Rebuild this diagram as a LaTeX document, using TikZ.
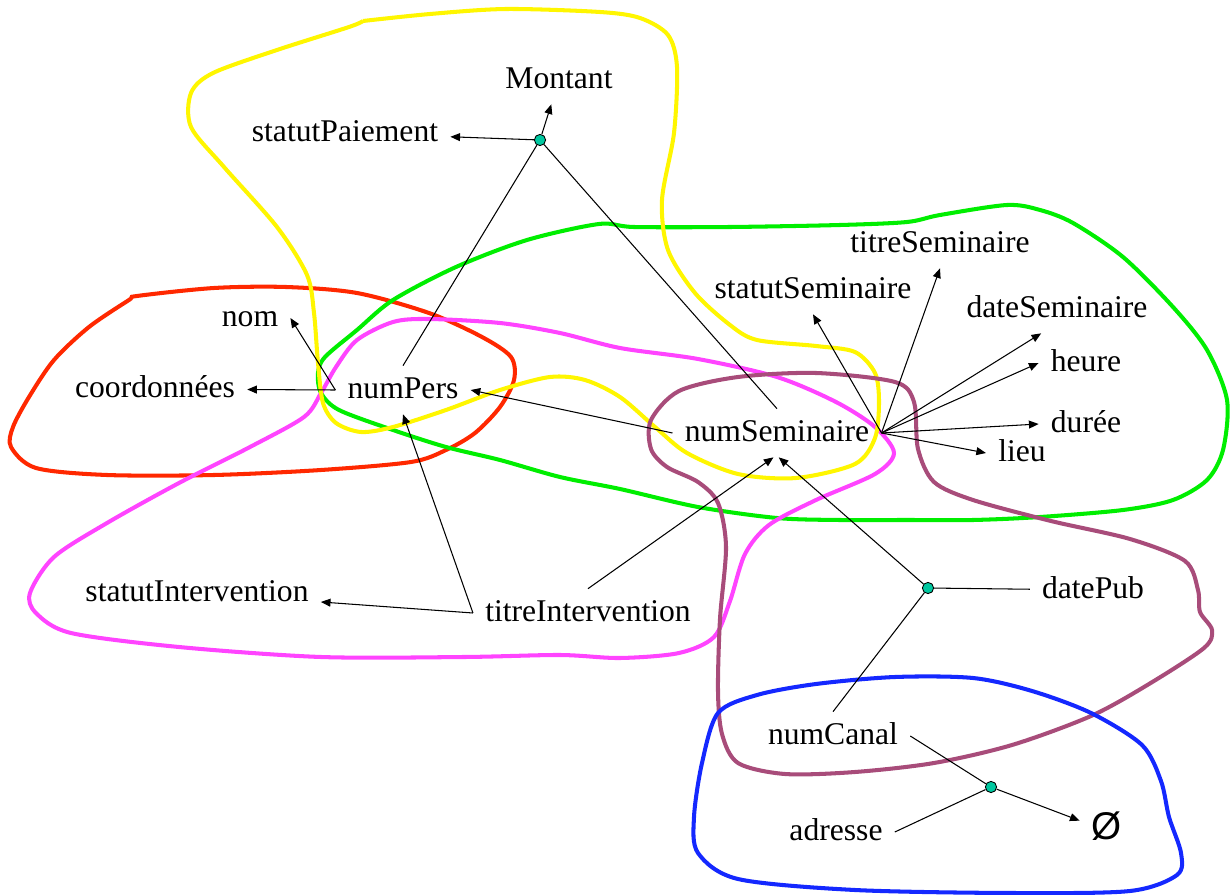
\documentclass[tikz,border=0pt]{standalone}
\usepackage{fontspec}
\setmainfont{Liberation Serif}
\newfontfamily\videfont{Liberation Sans}
\usetikzlibrary{arrows.meta}
\definecolor{jaune}{RGB}{255,246,0}
\definecolor{vert}{RGB}{0,238,0}
\definecolor{rouge}{RGB}{255,40,0}
\definecolor{rose}{RGB}{255,68,255}
\definecolor{prune}{RGB}{168,76,122}
\definecolor{bleu}{RGB}{20,40,255}
\definecolor{turquoise}{RGB}{0,200,160}

\begin{document}
\begin{tikzpicture}[x=0.02cm, y=-0.02cm,
  attr/.style={inner sep=6.8pt, text height=11.9pt, text depth=1.8pt, font=\fontsize{18}{21}\selectfont},
  fd/.style={-{Triangle[length=5.5pt,width=4.5pt]}, line width=0.6pt},
  lien/.style={line width=0.6pt},
  point/.style={circle, draw, fill=turquoise, inner sep=0pt, minimum size=6.4pt, line width=0.5pt},
  zone/.style={line width=2.3pt, line join=round}]
\useasboundingbox (0,0) rectangle (1231,895);

\draw[zone, rouge] plot[smooth cycle] coordinates {(137,296) (214,288) (286,287) (357,293) (429,313)
  (482,337) (511,357) (514,380) (500,407) (475,433) (446,450) (411,462) (321,470) (214,475)
  (107,475) (36,468) (11,447) (13,427) (29,397) (54,360) (89,327) (129,300)};
\draw[zone, vert] plot[smooth cycle] coordinates {(318,373) (325,357) (357,330) (393,300) (456,267)
  (527,240) (599,224) (634,227) (730,227) (840,225) (907,222) (940,215) (1007,205) (1040,210)
  (1073,223) (1123,257) (1173,307) (1207,350) (1227,400) (1223,450) (1207,480) (1173,500)
  (1123,510) (1040,517) (973,520) (907,520) (840,520) (777,518) (698,507) (620,489) (560,477)
  (500,460) (446,447) (393,430) (339,410) (321,393)};
\draw[zone, rose] plot[smooth cycle] coordinates {(620,348) (560,333) (500,323) (429,319) (393,322)
  (357,340) (336,367) (321,393) (304,417) (250,447) (179,483) (107,523) (54,557) (30,593)
  (36,613) (71,633) (179,647) (321,657) (464,657) (560,655) (620,658) (679,653) (714,637)
  (730,601) (745,554) (769,525) (816,500) (875,474) (894,453) (875,427) (836,402) (777,377)
  (698,359)};
\draw[zone, jaune] plot[smooth] coordinates {(363,21) (430,14) (506,9) (600,12) (640,18) (668,35)
  (677,67) (674,133) (662,200) (668,250) (695,293) (730,325) (757,340) (816,346) (855,352)
  (875,373) (879,402) (875,438) (855,464) (796,478) (738,474) (687,453) (655,427) (620,397)
  (585,380) (550,377) (500,390) (446,410) (393,427) (361,432) (336,423) (323,403) (318,363)
  (314,313) (307,275) (277,227) (224,167) (191,127) (191,93) (213,73) (277,50) (349,27) (363,21)};
\draw[zone, prune] plot[smooth cycle] coordinates {(651,449) (651,420) (679,391) (738,377) (816,373)
  (895,382) (914,402) (918,449) (934,482) (973,500) (1051,521) (1130,539) (1185,561)
  (1198,590) (1200,612) (1212,630) (1204,648) (1149,684) (1091,716) (1012,745) (934,763)
  (855,772) (785,774) (738,763) (722,734) (718,691) (720,619) (726,547) (718,503) (698,482)
  (667,467)};
\draw[zone, bleu] plot[smooth cycle] coordinates {(718,713) (757,695) (816,684) (895,677) (973,678)
  (1032,691) (1091,713) (1142,745) (1161,781) (1169,817) (1181,853) (1177,875) (1130,891)
  (1012,893) (855,890) (738,879) (698,853) (694,817) (702,763)};

\node[attr] (montant) at (559,80) {Montant};
\node[attr] (statutPai) at (345,133) {statutPaiement};
\node[attr] (nom) at (250,318) {nom};
\node[attr] (coord) at (155,389) {coordonnées};
\node[attr] (numPers) at (403,390) {numPers};
\node[attr] (numSem) at (777,433) {numSeminaire};
\node[attr] (titreSem) at (940,244) {titreSeminaire};
\node[attr] (statutSem) at (813,290) {statutSeminaire};
\node[attr] (dateSem) at (1057,309) {dateSeminaire};
\node[attr] (heure) at (1086,363) {heure};
\node[attr] (duree) at (1086,424) {durée};
\node[attr] (lieu) at (1022,453) {lieu};
\node[attr] (statutInt) at (197,593) {statutIntervention};
\node[attr] (titreInt) at (588,613) {titreIntervention};
\node[attr] (datePub) at (1093,590) {datePub};
\node[attr] (numCanal) at (833,736) {numCanal};
\node[attr] (adresse) at (836,832) {adresse};
\node[attr] (vide) at (1107,831) {\videfont\fontsize{22}{24}\selectfont Ø};

\node[point] (p1) at (540,140) {};
\node[point] (p2) at (928,588) {};
\node[point] (p3) at (991,787) {};

\draw[fd] (p1) -- (statutPai);
\draw[fd] (p1) -- (montant);
\draw[lien] (numPers.north) -- (p1);
\draw[lien] (p1) -- (numSem.north);
\draw[fd] (numPers.west) -- (nom.east);
\draw[fd] (numPers.west) -- (coord);
\draw[fd] (numSem.west) -- (numPers.east);
\draw[fd] (titreInt.west) -- (statutInt);
\draw[fd] (titreInt.west) -- (numPers.south);
\draw[fd] (titreInt.north) -- ([xshift=-2pt]numSem.south);
\draw[fd] (numSem.east) -- (titreSem.south);
\draw[fd] (numSem.east) -- (statutSem.south);
\draw[fd] (numSem.east) -- ([xshift=-9pt]dateSem.south);
\draw[fd] (numSem.east) -- (heure.west);
\draw[fd] (numSem.east) -- (duree.west);
\draw[fd] (numSem.east) -- (lieu.west);
\draw[fd] (p2) -- ([xshift=1pt]numSem.south);
\draw[lien] (p2) -- (datePub);
\draw[lien] (numCanal.north) -- (p2);
\draw[lien] (numCanal.east) -- (p3);
\draw[lien] (adresse.east) -- (p3);
\draw[fd] (p3) -- (vide);

\end{tikzpicture}
\end{document}
